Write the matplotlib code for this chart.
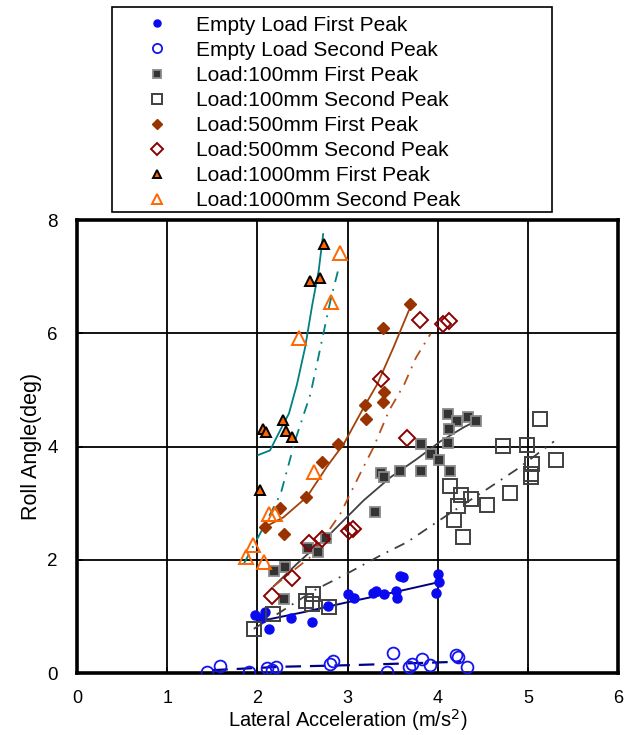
import matplotlib
matplotlib.use("Agg")
import matplotlib.pyplot as plt
from matplotlib.lines import Line2D
from matplotlib.patches import Rectangle
import numpy as np

plt.rcParams['font.family'] = ['Liberation Sans', 'DejaVu Sans']

# ---------------- data ----------------
empty_first_x = [1.97, 2.05, 2.09, 2.13, 2.37, 2.61, 2.78, 3.00, 3.07, 3.28, 3.32, 3.41, 3.54, 3.55, 3.58, 3.61, 4.00, 4.02, 3.98]
empty_first_y = [1.02, 0.98, 1.08, 0.78, 0.97, 0.90, 1.19, 1.39, 1.33, 1.42, 1.45, 1.39, 1.45, 1.33, 1.71, 1.70, 1.74, 1.61, 1.42]
empty_second_x = [1.44, 1.59, 1.91, 2.11, 2.16, 2.21, 2.81, 2.84, 3.44, 3.50, 3.68, 3.71, 3.83, 3.92, 4.20, 4.23, 4.33]
empty_second_y = [0.02, 0.13, 0.01, 0.08, 0.05, 0.11, 0.16, 0.22, 0.01, 0.35, 0.11, 0.16, 0.25, 0.15, 0.31, 0.28, 0.10]

l100_first_x = [4.12, 4.21, 4.34, 4.43, 4.13, 4.11, 3.81, 3.93, 4.02, 4.14, 3.81, 3.58, 3.37, 3.41, 3.30, 2.76, 2.56, 2.67, 2.19, 2.31, 2.30]
l100_first_y = [4.58, 4.45, 4.52, 4.45, 4.31, 4.06, 4.04, 3.87, 3.77, 3.56, 3.56, 3.56, 3.53, 3.47, 2.85, 2.38, 2.21, 2.13, 1.80, 1.87, 1.30]
l100_second_x = [5.14, 4.72, 4.99, 5.05, 5.03, 5.03, 5.31, 4.14, 4.26, 4.37, 4.22, 4.55, 4.80, 4.18, 4.28, 1.96, 2.17, 2.62, 2.54, 2.61, 2.79]
l100_second_y = [4.49, 4.01, 4.02, 3.69, 3.52, 3.46, 3.77, 3.30, 3.14, 3.08, 2.95, 2.96, 3.17, 2.70, 2.41, 0.77, 1.04, 1.39, 1.27, 1.22, 1.17]

l500_first_x = [3.69, 3.39, 3.40, 3.39, 3.19, 3.21, 2.90, 2.72, 2.54, 2.25, 2.08, 2.30]
l500_first_y = [6.51, 6.09, 4.96, 4.78, 4.74, 4.49, 4.04, 3.72, 3.10, 2.92, 2.58, 2.45]
l500_second_x = [3.80, 4.06, 4.13, 3.37, 3.66, 3.02, 3.06, 2.57, 2.72, 2.38, 2.16]
l500_second_y = [6.24, 6.16, 6.22, 5.19, 4.15, 2.51, 2.55, 2.30, 2.36, 1.68, 1.36]

l1000_first_x = [2.03, 2.06, 2.10, 2.29, 2.32, 2.38, 2.58, 2.69, 2.74]
l1000_first_y = [3.24, 4.31, 4.25, 4.46, 4.28, 4.16, 6.92, 6.98, 7.58]
l1000_second_x = [1.87, 1.95, 2.07, 2.13, 2.20, 2.46, 2.63, 2.82, 2.92]
l1000_second_y = [2.04, 2.26, 1.96, 2.81, 2.81, 5.92, 3.55, 6.56, 7.42]

# trend curves
fit_empty1_x = [1.98, 2.5, 3.0, 3.5, 4.0]
fit_empty1_y = [0.90, 1.07, 1.25, 1.42, 1.60]
fit_empty2_x = [1.50, 2.26, 3.07, 4.26]
fit_empty2_y = [0.05, 0.11, 0.14, 0.20]
fit_l100_1_x = [2.18, 2.44, 2.81, 3.18, 3.48, 3.77, 4.03, 4.29, 4.45]
fit_l100_1_y = [1.53, 1.93, 2.46, 3.05, 3.46, 3.78, 4.09, 4.34, 4.47]
fit_l100_2_x = [1.96, 2.26, 2.63, 3.00, 3.37, 3.66, 4.07, 4.55, 4.89, 5.29]
fit_l100_2_y = [0.78, 1.08, 1.46, 1.76, 2.08, 2.31, 2.75, 3.25, 3.61, 4.09]
fit_l500_1_x = [2.05, 2.29, 2.55, 2.77, 2.96, 3.18, 3.33, 3.51, 3.68]
fit_l500_1_y = [2.55, 2.75, 3.11, 3.64, 4.05, 4.69, 5.10, 5.75, 6.40]
fit_l500_2_x = [2.18, 2.40, 2.59, 2.92, 3.14, 3.29, 3.46, 3.63, 3.76, 3.92]
fit_l500_2_y = [1.53, 1.81, 2.05, 2.81, 3.52, 3.99, 4.63, 5.10, 5.57, 5.99]
fit_l1000_1_x = [2.01, 2.14, 2.29, 2.35, 2.44, 2.53, 2.61, 2.68, 2.73]
fit_l1000_1_y = [3.85, 3.93, 4.40, 4.58, 5.10, 5.75, 6.51, 7.10, 7.75]
fit_l1000_2_x = [1.85, 2.03, 2.26, 2.42, 2.59, 2.70, 2.81, 2.91]
fit_l1000_2_y = [1.93, 2.46, 3.17, 4.11, 4.93, 5.75, 6.57, 7.20]

x_ticks = [0, 1, 2, 3, 4, 5, 6]
y_ticks = [0, 2, 4, 6, 8]

labels = ["Empty Load First Peak", "Empty Load Second Peak",
          "Load:100mm First Peak", "Load:100mm Second Peak",
          "Load:500mm First Peak", "Load:500mm Second Peak",
          "Load:1000mm First Peak", "Load:1000mm Second Peak"]

# ---------------- figure ----------------
W, H = 632, 735
fig = plt.figure(figsize=(W / 100, H / 100), dpi=100)
ax = fig.add_axes([77 / W, 62 / H, 541 / W, 453 / H])

ax.set_xlim(0, 6)
ax.set_ylim(0, 8)
ax.set_xticks(x_ticks)
ax.set_yticks(y_ticks)
ax.grid(True, color='black', linewidth=1.3)
ax.set_axisbelow(True)
for s in ax.spines.values():
    s.set_linewidth(2.6)
ax.tick_params(direction='in', length=4, width=1.3, labelsize=13.5)
ax.tick_params(axis='y', pad=14)
ax.tick_params(axis='x', pad=12, labelsize=13)

# fit lines
ax.plot(fit_empty1_x, fit_empty1_y, color='#000080', lw=1.4, zorder=3)
ax.plot(fit_empty2_x, fit_empty2_y, color='#000080', lw=1.6, dashes=(7, 4), zorder=3)
ax.plot(fit_l100_1_x, fit_l100_1_y, color='#404040', lw=1.3, zorder=3)
ax.plot(fit_l100_2_x, fit_l100_2_y, color='#404040', lw=1.3, dashes=(6, 4, 1, 4), zorder=3)
ax.plot(fit_l500_1_x, fit_l500_1_y, color='#A0420A', lw=1.3, zorder=3)
ax.plot(fit_l500_2_x, fit_l500_2_y, color='#B8501A', lw=1.3, dashes=(6, 4, 1, 4), zorder=3)
ax.plot(fit_l1000_1_x, fit_l1000_1_y, color='#008080', lw=1.3, zorder=3)
ax.plot(fit_l1000_2_x, fit_l1000_2_y, color='#008080', lw=1.3, dashes=(6, 4, 1, 4), zorder=3)

# marker styles
styles = [
    dict(marker='o', mfc='#0A0AF0', mec='#0A0AF0', ms=6.5, mew=1.0),
    dict(marker='o', mfc='none', mec='#1414F0', ms=8.5, mew=1.3),
    dict(marker='s', mfc='#333333', mec='#8A8A8A', ms=7, mew=1.3),
    dict(marker='s', mfc='none', mec='#404040', ms=9.5, mew=1.4),
    dict(marker='D', mfc='#993300', mec='#993300', ms=6.5, mew=1.0),
    dict(marker='D', mfc='none', mec='#8B0000', ms=8, mew=1.4),
    dict(marker='^', mfc='#FF6600', mec='black', ms=7.5, mew=1.4),
    dict(marker='^', mfc='none', mec='#FF6600', ms=9.5, mew=1.4),
]
series = [(empty_first_x, empty_first_y), (empty_second_x, empty_second_y),
          (l100_first_x, l100_first_y), (l100_second_x, l100_second_y),
          (l500_first_x, l500_first_y), (l500_second_x, l500_second_y),
          (l1000_first_x, l1000_first_y), (l1000_second_x, l1000_second_y)]
for (xs, ys), st in zip(series, styles):
    ax.plot(xs, ys, ls='none', zorder=4, **st)

ax.set_xlabel("Lateral Acceleration (m/s$^2$)", fontsize=14.5, labelpad=0)
ax.set_ylabel("Roll Angle(deg)", fontsize=15.5, labelpad=4)

# ---- legend drawn manually in figure pixel coords ----
box_l, box_r, box_t, box_b = 112, 552, 7, 212
fig.add_artist(Rectangle((box_l / W, 1 - box_b / H), (box_r - box_l) / W, (box_b - box_t) / H,
                         transform=fig.transFigure, fill=False, edgecolor='black', lw=1.2))
row0, dy = 23.3, 25.1
for i, (lab, st) in enumerate(zip(labels, styles)):
    yc = 1 - (row0 + dy * i) / H
    st2 = dict(st)
    st2['ms'] = st['ms'] * 0.78
    fig.add_artist(Line2D([157 / W], [yc], transform=fig.transFigure, ls='none', **st2))
    fig.text(196 / W, yc, lab, fontsize=15, ha='left', va='center_baseline')

fig.savefig("out.png", dpi=100)
